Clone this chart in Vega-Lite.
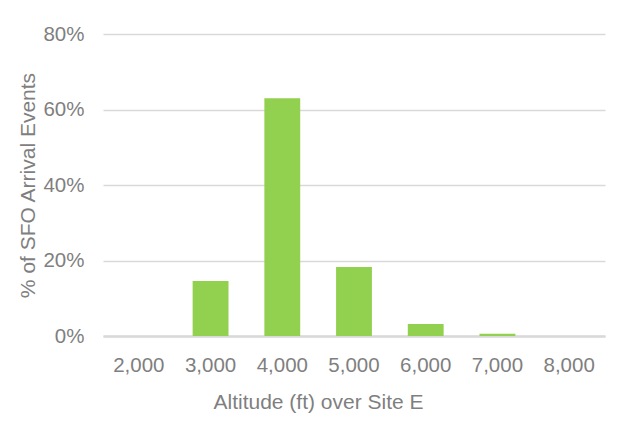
{
  "$schema": "https://vega.github.io/schema/vega-lite/v6.json",
  "autosize": "none",
  "width": 502,
  "height": 302,
  "padding": {"left": 103, "top": 34, "right": 23, "bottom": 91},
  "background": "white",
  "config": {
    "view": {"stroke": null},
    "font": "Liberation Sans",
    "axis": {
      "labelFont": "Liberation Sans",
      "titleFont": "Liberation Sans",
      "labelFontSize": 20.5,
      "titleFontSize": 21,
      "labelColor": "#7f7f7f",
      "titleColor": "#7f7f7f",
      "titleFontWeight": "normal",
      "ticks": false
    }
  },
  "data": {
    "values": [
      {"altitude": "2,000", "pct": 0.0},
      {"altitude": "3,000", "pct": 0.146},
      {"altitude": "4,000", "pct": 0.63},
      {"altitude": "5,000", "pct": 0.183},
      {"altitude": "6,000", "pct": 0.032},
      {"altitude": "7,000", "pct": 0.006},
      {"altitude": "8,000", "pct": 0.0}
    ]
  },
  "mark": {"type": "bar", "color": "#92d050"},
  "encoding": {
    "x": {
      "field": "altitude",
      "type": "ordinal",
      "sort": null,
      "scale": {"paddingInner": 0.5, "paddingOuter": 0.25},
      "axis": {
        "title": "Altitude (ft) over Site E",
        "labelAngle": 0,
        "labelPadding": 19,
        "titlePadding": 16,
        "titleX": 215,
        "titleAlign": "center",
        "domainColor": "#d9d9d9",
        "domainWidth": 2.5,
        "grid": false
      }
    },
    "y": {
      "field": "pct",
      "type": "quantitative",
      "scale": {"domain": [0, 0.8], "nice": false},
      "axis": {
        "title": "% of SFO Arrival Events",
        "values": [0, 0.2, 0.4, 0.6, 0.8],
        "format": ".0%",
        "labelPadding": 19,
        "titlePadding": 4,
        "domain": false,
        "gridColor": "#d9d9d9",
        "gridWidth": 1.5
      }
    }
  }
}
